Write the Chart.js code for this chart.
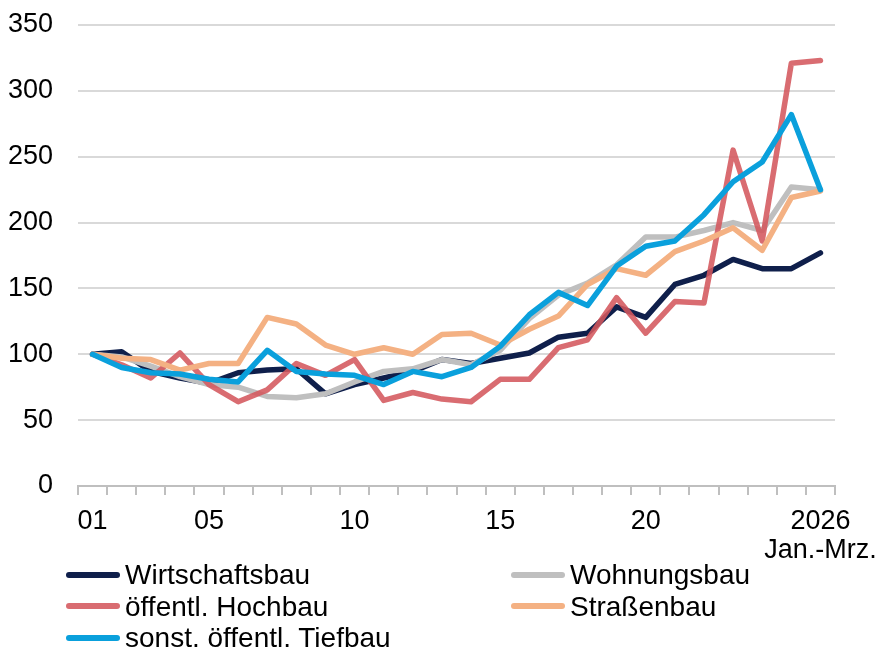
<!DOCTYPE html>
<html lang="de">
<head>
<meta charset="utf-8">
<title>Baupreise</title>
<script src="https://cdn.jsdelivr.net/npm/chart.js@4"></script>
<style>
    body { margin: 0; background: #fff; font-family: 'Liberation Sans', Arial, sans-serif; }
    #wrap { position: relative; width: 884px; height: 654px; }
    #chart-box { position: absolute; left: 0; top: 0; width: 884px; height: 570px; }
    #legend {
        position: absolute; left: 66px; top: 559px;
        display: grid; grid-template-columns: 445px auto;
        font-size: 28px; line-height: 31.5px; color: #000;
    }
    #legend .item { display: flex; align-items: center; white-space: nowrap; }
    #legend .swatch { width: 54px; height: 6px; border-radius: 3px; margin-right: 5px; }
</style>
</head>
<body>
<div id="wrap">
    <div id="chart-box"><canvas id="chart"></canvas></div>
    <div id="legend"></div>
</div>
<script>
// Jahre 2001 bis 2025, dann 2026 (Jan.-Mrz.)
const years = ['01','02','03','04','05','06','07','08','09','10','11','12','13',
               '14','15','16','17','18','19','20','21','22','23','24','25','2026'];
const shownTicks = ['01','05','10','15','20','2026'];
const lastTickSub = 'Jan.-Mrz.';

const wirtschaftsbau = [100,102,87,82,78,86,88,89,70,77,82,87,96,93,97,101,113,116,136,128,153,160,172,165,165,177];
const wohnungsbau    = [100,98,91,83,77,75,68,67,70,79,87,89,96,92,103,127,145,154,168,189,189,194,200,194,227,225];
const hochbau        = [100,92,82,101,77,64,73,93,84,96,65,71,66,64,81,81,105,111,143,116,140,139,255,186,321,323];
const strassenbau    = [100,97,96,88,93,93,128,123,107,100,105,100,115,116,107,119,129,153,165,160,178,186,196,179,219,224];
const tiefbau        = [100,90,86,85,81,79,103,87,85,84,77,87,83,90,106,130,147,137,167,182,186,206,231,246,282,225];

const yTicks = [0, 50, 100, 150, 200, 250, 300, 350];

document.addEventListener('DOMContentLoaded', function () {
    const font = { family: "'Liberation Sans', Arial, sans-serif", size: 27 };

    function series(label, data, color, order) {
        return {
            label: label,
            data: data,
            borderColor: color,
            borderWidth: 5.5,
            borderJoinStyle: 'round',
            borderCapStyle: 'round',
            pointRadius: 0,
            tension: 0,
            fill: false,
            order: order
        };
    }

    const ctx = document.getElementById('chart').getContext('2d');
    const chart = new Chart(ctx, {
        type: 'line',
        data: {
            labels: years,
            datasets: [
                series('Wirtschaftsbau', wirtschaftsbau, '#0f1f4b', 5),
                series('Wohnungsbau', wohnungsbau, '#bfbfbf', 4),
                series('öffentl. Hochbau', hochbau, 'rgba(212, 88, 93, 0.88)', 3),
                series('Straßenbau', strassenbau, '#f4b183', 2),
                series('sonst. öffentl. Tiefbau', tiefbau, '#0aa0dc', 1)
            ]
        },
        options: {
            responsive: true,
            maintainAspectRatio: false,
            animation: false,
            layout: { padding: { left: 8, right: 49, top: 25, bottom: 0 } },
            plugins: {
                legend: { display: false },
                tooltip: { enabled: false }
            },
            scales: {
                x: {
                    offset: true,
                    afterFit: axis => {
                        axis.height = 84;
                        axis.paddingLeft = 0;
                        axis.paddingRight = 0;
                    },
                    grid: {
                        offset: true,
                        drawOnChartArea: false,
                        drawTicks: true,
                        tickLength: 9,
                        color: '#bfbfbf',
                        lineWidth: 2
                    },
                    border: { color: '#bfbfbf', width: 2 },
                    ticks: {
                        autoSkip: false,
                        maxRotation: 0,
                        padding: 12,
                        color: '#000',
                        font: Object.assign({ lineHeight: 1.07 }, font),
                        callback: function (value) {
                            const lbl = years[value];
                            if (!shownTicks.includes(lbl)) return '';
                            return lbl === '2026' ? [lbl, lastTickSub] : lbl;
                        }
                    }
                },
                y: {
                    min: yTicks[0],
                    max: yTicks[yTicks.length - 1],
                    afterBuildTicks: axis => { axis.ticks = yTicks.map(v => ({ value: v })); },
                    afterFit: axis => {
                        axis.width = 70;
                        axis.paddingTop = 0;
                        axis.paddingBottom = 0;
                    },
                    grid: { color: '#d9d9d9', lineWidth: 2, drawTicks: false },
                    border: { display: false },
                    ticks: { padding: 25, color: '#000', font: font }
                }
            }
        }
    });

    // Legende in zwei Spalten wie im Original
    const legend = document.getElementById('legend');
    chart.data.datasets.forEach(ds => {
        const item = document.createElement('div');
        item.className = 'item';
        const sw = document.createElement('span');
        sw.className = 'swatch';
        sw.style.background = ds.borderColor;
        item.appendChild(sw);
        item.appendChild(document.createTextNode(ds.label));
        legend.appendChild(item);
    });
});
</script>
</body>
</html>
